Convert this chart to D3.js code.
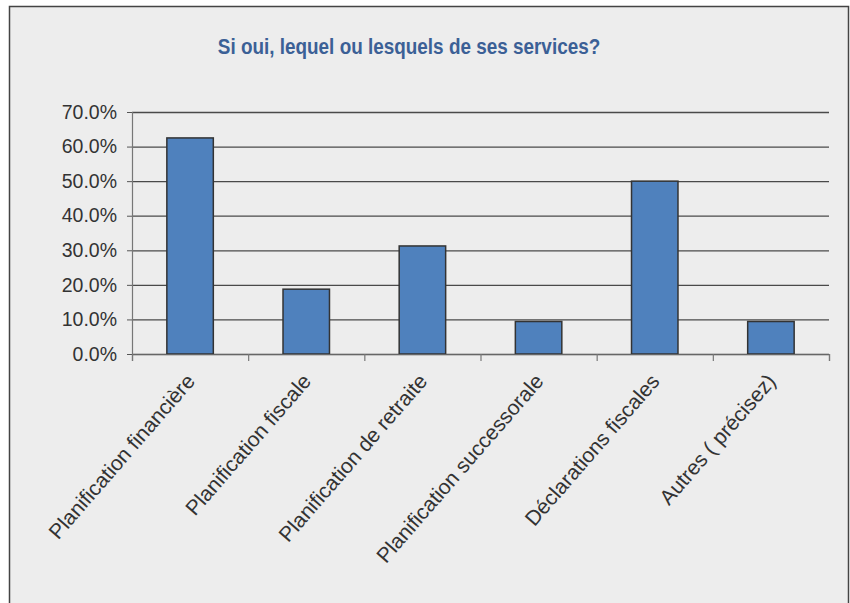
<!DOCTYPE html>
<html>
<head>
<meta charset="utf-8">
<script src="https://cdn.jsdelivr.net/npm/d3@7"></script>
<style>
  body { margin: 0; background: #fff; }
  text { font-family: "Liberation Sans", Arial, sans-serif; }
</style>
</head>
<body>
<div id="chart"></div>
<script>
const width = 850;
const height = 603;
const margin = { top: 112, right: 21, bottom: 249, left: 132 };

// data
const categories = [
    "Planification financière",
    "Planification fiscale",
    "Planification de retraite",
    "Planification successorale",
    "Déclarations fiscales",
    "Autres ( précisez)",
];
const values = [0.625, 0.1875, 0.3125, 0.094, 0.5, 0.094];
const yTicks = [0, 0.1, 0.2, 0.3, 0.4, 0.5, 0.6, 0.7];
const title = "Si oui, lequel ou lesquels de ses services?";

const data = categories.map((c, i) => ({ cat: c, value: values[i] }));

const svg = d3
    .select("#chart")
    .append("svg")
    .attr("width", width)
    .attr("height", height);

// frame
svg.append("rect")
    .attr("x", 9.5)
    .attr("y", 6.5)
    .attr("width", 839)
    .attr("height", 610)
    .attr("fill", "#ededed")
    .attr("stroke", "#444")
    .attr("stroke-width", 1.5);

// title, squeezed a bit like a narrow font
svg.append("text")
    .attr("transform", "translate(409,54) scale(0.86,1)")
    .attr("text-anchor", "middle")
    .attr("fill", "#3b6096")
    .style("font-weight", "bold")
    .style("font-size", "22px")
    .text(title);

const x = d3
    .scaleBand()
    .domain(categories)
    .range([margin.left, width - margin.right])
    .paddingInner(0.6)
    .paddingOuter(0.3);

const y = d3
    .scaleLinear()
    .domain([0, 0.7])
    .range([height - margin.bottom, margin.top]);

// gridlines
const grid = svg.append("g")
    .attr("transform", `translate(${margin.left},0)`)
    .call(d3.axisLeft(y).tickValues(yTicks).tickSize(-(width - margin.right - margin.left)).tickFormat(""));
grid.select(".domain").remove();
grid.selectAll("line").attr("stroke", "#4a4a4a").attr("stroke-width", 1.3);

// y axis
const yAxis = svg.append("g")
    .attr("transform", `translate(${margin.left},0)`)
    .call(d3.axisLeft(y).tickValues(yTicks).tickSize(5).tickPadding(10).tickFormat(d3.format(".1%")));
yAxis.select(".domain").attr("stroke", "#777").attr("stroke-width", 1.2);
yAxis.selectAll("line").attr("stroke", "#555");
yAxis.selectAll("text")
    .attr("fill", "#333")
    .style("font-size", "19.5px");

// bars
svg.selectAll(".bar")
    .data(data)
    .enter()
    .append("rect")
    .attr("class", "bar")
    .attr("x", (d) => x(d.cat))
    .attr("y", (d) => y(d.value))
    .attr("width", x.bandwidth())
    .attr("height", (d) => y(0) - y(d.value))
    .attr("fill", "#4f81bd")
    .attr("stroke", "#333")
    .attr("stroke-width", 1.5);

// x axis (ticks between categories)
const x0 = margin.left;
const x1 = width - margin.right;
const bounds = d3.range(categories.length + 1).map((i) => x0 + i * (x1 - x0) / categories.length);
const xAxis = svg.append("g")
    .attr("transform", `translate(0,${y(0)})`)
    .call(d3.axisBottom(d3.scaleLinear().domain([x0, x1]).range([x0, x1]))
        .tickValues(bounds).tickSize(7).tickFormat(""));
xAxis.select(".domain").attr("stroke", "#666").attr("stroke-width", 1.2);
xAxis.selectAll("line").attr("stroke", "#777").attr("stroke-width", 1.2);

// rotated category labels
svg.append("g")
    .selectAll("text")
    .data(categories)
    .enter()
    .append("text")
    .attr("transform", (d) => `translate(${x(d) + x.bandwidth() / 2 + 6},${y(0) + 28}) rotate(-49)`)
    .attr("text-anchor", "end")
    .attr("fill", "#333")
    .style("font-size", "21px")
    .text((d) => d);
</script>
</body>
</html>
